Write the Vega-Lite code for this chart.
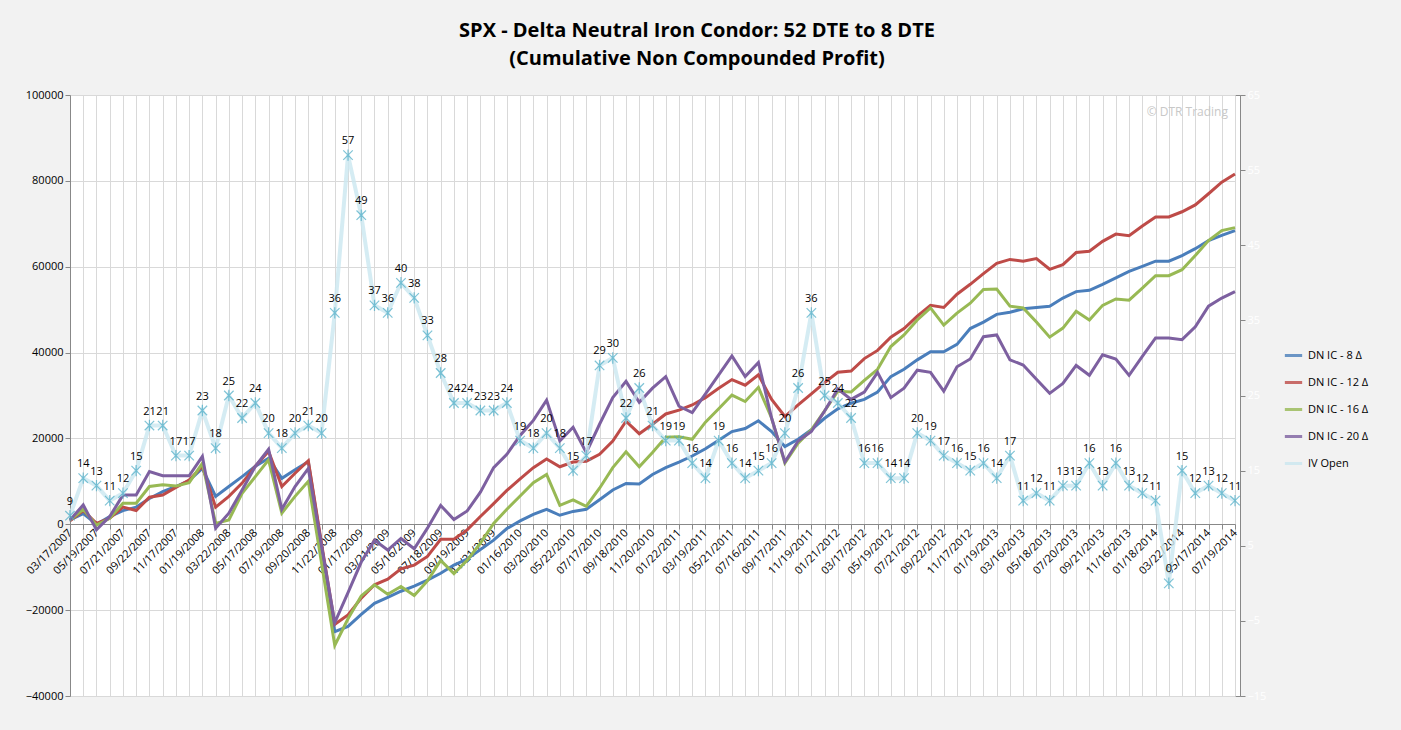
{
  "$schema": "https://vega.github.io/schema/vega-lite/v6.json",
  "width": 1170,
  "height": 601,
  "autosize": {"type": "none"},
  "padding": {"left": 70, "top": 95, "right": 161, "bottom": 34},
  "background": "#f2f2f2",
  "config": {
    "font": "Open Sans",
    "view": {"fill": "white", "stroke": "#888888"},
    "axis": {"labelFontSize": 11, "labelColor": "black", "domainColor": "#888888", "tickColor": "#888888"}
  },
  "title": {
    "text": ["SPX - Delta Neutral Iron Condor: 52 DTE to 8 DTE", "(Cumulative Non Compounded Profit)"],
    "fontSize": 20, "fontWeight": "bold", "font": "Open Sans", "anchor": "middle", "dx": 42, "offset": 20, "lineHeight": 28
  },
  "data": {"values": [
    {"d":"03/17/2007","b":1000,"r":800,"g":1000,"p":1000,"iv":9},
    {"d":"04/21/2007","b":2500,"r":3200,"g":3500,"p":4500,"iv":14},
    {"d":"05/19/2007","b":0,"r":200,"g":-200,"p":-1300,"iv":13},
    {"d":"06/16/2007","b":1800,"r":1400,"g":1400,"p":1800,"iv":11},
    {"d":"07/21/2007","b":3200,"r":4000,"g":4900,"p":6800,"iv":12},
    {"d":"08/18/2007","b":4000,"r":3200,"g":4900,"p":6800,"iv":15},
    {"d":"09/22/2007","b":6000,"r":6300,"g":8800,"p":12300,"iv":21},
    {"d":"10/20/2007","b":7600,"r":6800,"g":9200,"p":11300,"iv":21},
    {"d":"11/17/2007","b":8800,"r":8600,"g":8900,"p":11300,"iv":17},
    {"d":"12/22/2007","b":10200,"r":10300,"g":9700,"p":11300,"iv":17},
    {"d":"01/19/2008","b":13000,"r":13500,"g":14200,"p":15800,"iv":23},
    {"d":"02/16/2008","b":6500,"r":4000,"g":200,"p":-900,"iv":18},
    {"d":"03/22/2008","b":8800,"r":6500,"g":1000,"p":2600,"iv":25},
    {"d":"04/19/2008","b":11100,"r":9600,"g":7200,"p":8000,"iv":22},
    {"d":"05/17/2008","b":13500,"r":13500,"g":11100,"p":13500,"iv":24},
    {"d":"06/21/2008","b":15400,"r":17000,"g":15000,"p":17500,"iv":20},
    {"d":"07/19/2008","b":10700,"r":8800,"g":2600,"p":3500,"iv":18},
    {"d":"08/16/2008","b":12700,"r":11900,"g":6500,"p":8800,"iv":20},
    {"d":"09/20/2008","b":14600,"r":14800,"g":10000,"p":13000,"iv":21},
    {"d":"10/18/2008","b":-5000,"r":-4500,"g":-9000,"p":-5000,"iv":20},
    {"d":"11/22/2008","b":-25000,"r":-23300,"g":-28200,"p":-22900,"iv":36},
    {"d":"12/20/2008","b":-23800,"r":-21100,"g":-22000,"p":-15900,"iv":57},
    {"d":"01/17/2009","b":-21000,"r":-17200,"g":-16700,"p":-8800,"iv":49},
    {"d":"02/21/2009","b":-18400,"r":-14100,"g":-14100,"p":-3700,"iv":37},
    {"d":"03/21/2009","b":-17000,"r":-12800,"g":-16300,"p":-6000,"iv":36},
    {"d":"04/18/2009","b":-15600,"r":-10400,"g":-14500,"p":-3300,"iv":40},
    {"d":"05/16/2009","b":-14400,"r":-9500,"g":-16600,"p":-5700,"iv":38},
    {"d":"06/20/2009","b":-13000,"r":-7500,"g":-13200,"p":-900,"iv":33},
    {"d":"07/18/2009","b":-11400,"r":-3500,"g":-8400,"p":4400,"iv":28},
    {"d":"08/22/2009","b":-9500,"r":-3500,"g":-11500,"p":1100,"iv":24},
    {"d":"09/19/2009","b":-8100,"r":-1300,"g":-8400,"p":3100,"iv":24},
    {"d":"10/17/2009","b":-5900,"r":1800,"g":-4400,"p":7500,"iv":23},
    {"d":"11/21/2009","b":-3700,"r":4800,"g":200,"p":13200,"iv":23},
    {"d":"12/19/2009","b":-1000,"r":7900,"g":3500,"p":16300,"iv":24},
    {"d":"01/16/2010","b":800,"r":10600,"g":6600,"p":20700,"iv":19},
    {"d":"02/20/2010","b":2300,"r":13200,"g":9700,"p":24200,"iv":18},
    {"d":"03/20/2010","b":3500,"r":15200,"g":11600,"p":28900,"iv":20},
    {"d":"04/17/2010","b":2100,"r":13400,"g":4400,"p":19400,"iv":18},
    {"d":"05/22/2010","b":3000,"r":14500,"g":5700,"p":22600,"iv":15},
    {"d":"06/19/2010","b":3500,"r":14700,"g":4200,"p":16700,"iv":17},
    {"d":"07/17/2010","b":5700,"r":16300,"g":8400,"p":23300,"iv":29},
    {"d":"08/21/2010","b":8000,"r":19400,"g":13200,"p":29500,"iv":30},
    {"d":"09/18/2010","b":9500,"r":24000,"g":16900,"p":33300,"iv":22},
    {"d":"10/16/2010","b":9400,"r":21100,"g":13400,"p":28400,"iv":26},
    {"d":"11/20/2010","b":11600,"r":23300,"g":16700,"p":31700,"iv":21},
    {"d":"12/18/2010","b":13200,"r":25700,"g":20300,"p":34400,"iv":19},
    {"d":"01/22/2011","b":14500,"r":26600,"g":20400,"p":27500,"iv":19},
    {"d":"02/19/2011","b":15900,"r":27800,"g":19800,"p":26000,"iv":16},
    {"d":"03/19/2011","b":17600,"r":29500,"g":23800,"p":30400,"iv":14},
    {"d":"04/16/2011","b":19600,"r":31700,"g":26900,"p":34800,"iv":19},
    {"d":"05/21/2011","b":21600,"r":33700,"g":30100,"p":39200,"iv":16},
    {"d":"06/18/2011","b":22300,"r":32400,"g":28600,"p":34400,"iv":14},
    {"d":"07/16/2011","b":24100,"r":34800,"g":31900,"p":37700,"iv":15},
    {"d":"08/20/2011","b":21600,"r":29100,"g":24700,"p":24700,"iv":16},
    {"d":"09/17/2011","b":18100,"r":25100,"g":14300,"p":14500,"iv":20},
    {"d":"10/22/2011","b":19800,"r":27800,"g":18900,"p":19400,"iv":26},
    {"d":"11/19/2011","b":22000,"r":30400,"g":22000,"p":21600,"iv":36},
    {"d":"12/17/2011","b":24700,"r":33000,"g":26400,"p":26400,"iv":25},
    {"d":"01/21/2012","b":26900,"r":35400,"g":31000,"p":31500,"iv":24},
    {"d":"02/18/2012","b":28200,"r":35700,"g":30800,"p":29100,"iv":22},
    {"d":"03/17/2012","b":29100,"r":38600,"g":33500,"p":30800,"iv":16},
    {"d":"04/21/2012","b":30800,"r":40500,"g":36100,"p":35400,"iv":16},
    {"d":"05/19/2012","b":34400,"r":43600,"g":41400,"p":29500,"iv":14},
    {"d":"06/16/2012","b":36100,"r":45600,"g":44100,"p":31700,"iv":14},
    {"d":"07/21/2012","b":38300,"r":48500,"g":47600,"p":35900,"iv":20},
    {"d":"08/18/2012","b":40200,"r":51000,"g":50400,"p":35400,"iv":19},
    {"d":"09/22/2012","b":40200,"r":50500,"g":46400,"p":31000,"iv":17},
    {"d":"10/20/2012","b":41900,"r":53600,"g":49200,"p":36700,"iv":16},
    {"d":"11/17/2012","b":45600,"r":55900,"g":51500,"p":38500,"iv":15},
    {"d":"12/22/2012","b":47100,"r":58400,"g":54700,"p":43700,"iv":16},
    {"d":"01/19/2013","b":48900,"r":60800,"g":54800,"p":44100,"iv":14},
    {"d":"02/16/2013","b":49400,"r":61700,"g":50800,"p":38300,"iv":17},
    {"d":"03/16/2013","b":50200,"r":61300,"g":50400,"p":37100,"iv":11},
    {"d":"04/20/2013","b":50500,"r":61900,"g":47100,"p":33800,"iv":12},
    {"d":"05/18/2013","b":50800,"r":59400,"g":43600,"p":30500,"iv":11},
    {"d":"06/22/2013","b":52700,"r":60500,"g":45700,"p":32800,"iv":13},
    {"d":"07/20/2013","b":54200,"r":63300,"g":49600,"p":37000,"iv":13},
    {"d":"08/17/2013","b":54500,"r":63600,"g":47600,"p":34700,"iv":16},
    {"d":"09/21/2013","b":55900,"r":65900,"g":51000,"p":39500,"iv":13},
    {"d":"10/19/2013","b":57400,"r":67600,"g":52500,"p":38500,"iv":16},
    {"d":"11/16/2013","b":58900,"r":67200,"g":52200,"p":34700,"iv":13},
    {"d":"12/21/2013","b":60100,"r":69500,"g":55000,"p":39100,"iv":12},
    {"d":"01/18/2014","b":61300,"r":71600,"g":57900,"p":43400,"iv":11},
    {"d":"02/22/2014","b":61300,"r":71600,"g":57900,"p":43400,"iv":0},
    {"d":"03/22/2014","b":62600,"r":72800,"g":59300,"p":43000,"iv":15},
    {"d":"04/19/2014","b":64200,"r":74400,"g":62600,"p":46000,"iv":12},
    {"d":"05/17/2014","b":66100,"r":77000,"g":66100,"p":50800,"iv":13},
    {"d":"06/21/2014","b":67300,"r":79700,"g":68400,"p":52700,"iv":12},
    {"d":"07/19/2014","b":68400,"r":81600,"g":69100,"p":54200,"iv":11}
  ]},
  "layer": [
    {
      "transform": [{"fold": ["b", "r", "g", "p"], "as": ["s", "v"]}],
      "mark": {"type": "line", "strokeWidth": 3},
      "encoding": {
        "x": {"field": "d", "type": "nominal", "sort": null,
          "scale": {"type": "point", "padding": 0, "range": [0, 1165]},
          "axis": {"title": null, "labels": false, "ticks": false, "domain": false, "grid": true, "gridColor": "#d9d9d9"}},
        "y": {"field": "v", "type": "quantitative",
          "scale": {"domain": [-40000, 100000], "nice": false},
          "axis": {"title": null, "values": [-40000, -20000, 0, 20000, 40000, 60000, 80000, 100000], "format": "d", "grid": true, "gridColor": "#d9d9d9", "tickSize": 5}},
        "color": {"field": "s", "type": "nominal",
          "scale": {"domain": ["b", "r", "g", "p", "iv"], "range": ["#4a7ebb", "#be4b48", "#98b954", "#7d60a0", "#cbe7f0"]},
          "legend": {"title": null, "orient": "none", "legendX": 1213, "legendY": 250, "symbolType": "stroke", "symbolStrokeWidth": 3, "symbolSize": 300, "labelFontSize": 11, "rowPadding": 10,
            "labelExpr": "{'b':'DN IC - 8 Δ','r':'DN IC - 12 Δ','g':'DN IC - 16 Δ','p':'DN IC - 20 Δ','iv':'IV Open'}[datum.value]"}}
      }
    },
    {
      "encoding": {
        "x": {"field": "d", "type": "nominal", "sort": null,
          "axis": {"title": null, "orient": "bottom", "offset": -172, "labelAngle": -45, "labelAlign": "right", "labelBaseline": "middle", "tickSize": 5, "grid": false, "labelPadding": 2,
            "labelExpr": "toNumber(substring(datum.value, 0, 2)) % 2 == 1 ? datum.value : ''"}},
        "y": {"field": "iv", "type": "quantitative",
          "scale": {"domain": [-15, 65], "nice": false},
          "axis": {"title": null, "orient": "right", "values": [-15, -5, 5, 15, 25, 35, 45, 55, 65], "labelColor": "white", "grid": false, "tickSize": 5}}
      },
      "layer": [
        {"mark": {"type": "line", "strokeWidth": 4, "opacity": 0.8}, "encoding": {"color": {"datum": "iv"}}},
        {"mark": {"type": "point", "filled": false, "size": 90, "strokeWidth": 1.2, "color": "#4bacc6",
          "shape": "M-1,-1L1,1M-1,1L1,-1M0,-1.2L0,1.2"}},
        {"mark": {"type": "text", "dy": -14, "fontSize": 11, "color": "black"}, "encoding": {"text": {"field": "iv", "type": "quantitative"}}},
        {"data": {"values": [{"d": "07/19/2014", "iv": 62.8, "t": "© DTR Trading"}]},
          "mark": {"type": "text", "align": "right", "dx": -7, "fontSize": 12, "color": "#c8c8c8"},
          "encoding": {"text": {"field": "t"}}}
      ]
    }
  ],
  "resolve": {"scale": {"y": "independent"}, "axis": {"x": "independent"}}
}
